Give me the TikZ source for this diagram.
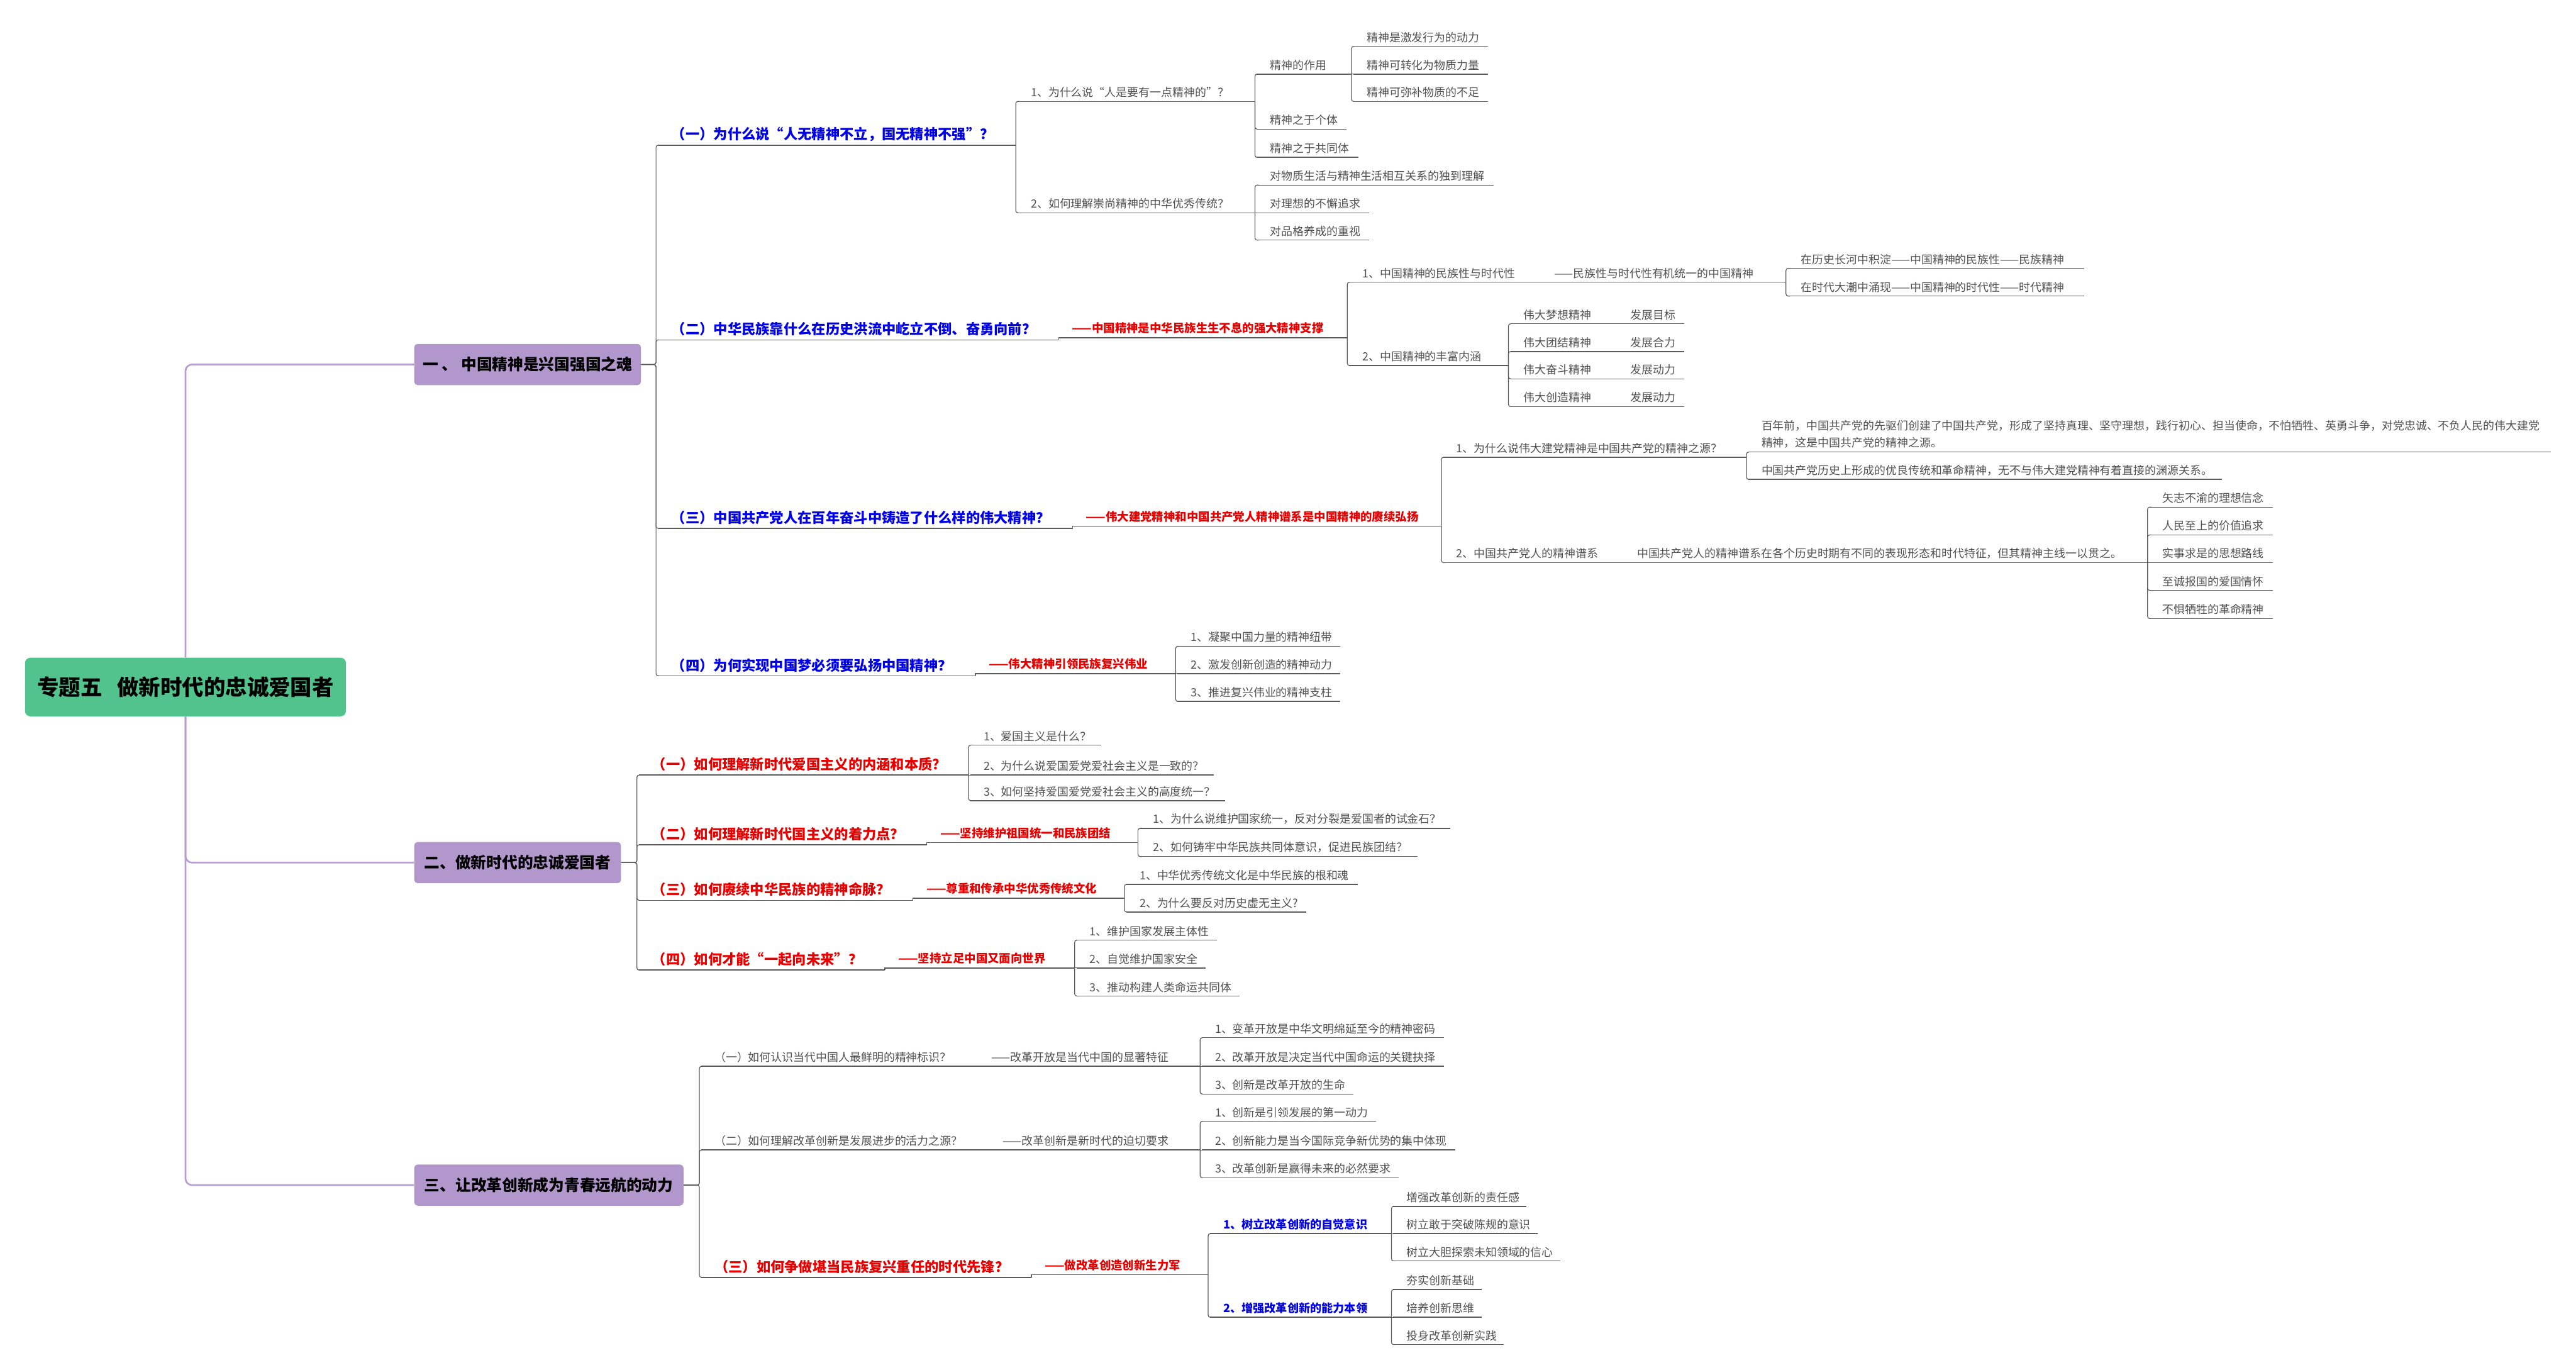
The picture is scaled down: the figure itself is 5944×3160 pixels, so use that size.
\documentclass[tikz,border=0pt]{standalone}
\usepackage{fontspec}
\setmainfont{Noto Sans CJK SC}
\definecolor{rootgreen}{RGB}{82,195,140}
\definecolor{branchpurple}{RGB}{177,151,204}
\definecolor{branchline}{RGB}{180,158,210}
\definecolor{linegray}{RGB}{90,90,90}
\definecolor{txtgray}{RGB}{80,80,80}
\definecolor{qblue}{RGB}{0,0,230}
\definecolor{qred}{RGB}{230,0,0}

\begin{document}
\begin{tikzpicture}[
    x=0.01cm, y=-0.01cm,
    root/.style={fill=rootgreen, rounded corners=0.12cm, minimum width=7.4cm,
                 minimum height=1.35cm, font=\fontsize{14.2}{17}\selectfont\bfseries},
    branch/.style={anchor=west, fill=branchpurple, rounded corners=0.08cm,
                   minimum width=#1, minimum height=0.95cm,
                   font=\fontsize{10.2}{12}\selectfont\bfseries},
    topic/.style={anchor=south west, text width=#1, align=left, inner xsep=0.3cm,
                  inner ysep=0.08cm, text=txtgray, font=\fontsize{7.4}{11.4}\selectfont,
                  append after command={(\tikzlastnode.south west) edge[uline] (\tikzlastnode.south east)}},
    blueq/.style={topic=#1, text=qblue, font=\fontsize{9.2}{11}\selectfont\bfseries},
    redq/.style={topic=#1, text=qred, font=\fontsize{9.2}{11}\selectfont\bfseries},
    gloss/.style={topic=#1, text=qred, font=\fontsize{7.6}{9}\selectfont\bfseries},
    subq/.style={topic=#1, text=qblue, font=\fontsize{7.5}{9}\selectfont\bfseries},
    uline/.style={draw=linegray, line width=0.6pt},
    link/.style={draw=linegray, line width=0.5pt, rounded corners=0.05cm},
    mainlink/.style={draw=branchline, line width=1.1pt, rounded corners=0.15cm}
  ]
    \useasboundingbox (0,0) rectangle (5944,3160);

    \node[root] (root) at (428,1585) {专题五\kern0.35cm做新时代的忠诚爱国者};
    \node[branch=5.23cm] (pa) at (955,841)  {一 、 中国精神是兴国强国之魂};
    \node[branch=4.77cm] (pb) at (955,1990) {二、做新时代的忠诚爱国者};
    \node[branch=6.21cm] (pc) at (955,2734) {三、让改革创新成为青春远航的动力};

    % part one
    \node[blueq=7.63cm] (a1) at (1519,335) {（一）为什么说“人无精神不立，国无精神不强”？};
    \node[topic=4.86cm] (a1x) at (2348,234) {1、为什么说“人是要有一点精神的”？};
    \node[topic=4.86cm] (a1y) at (2348,491) {2、如何理解崇尚精神的中华优秀传统？};
    \node[topic=1.57cm] (a1xa) at (2900,171) {精神的作用};
    \node[topic=1.45cm] (a1xb) at (2900,298) {精神之于个体};
    \node[topic=1.73cm] (a1xc) at (2900,363) {精神之于共同体};
    \node[topic=2.49cm] (a1xa1) at (3123,107) {精神是激发行为的动力};
    \node[topic=2.49cm] (a1xa2) at (3123,171) {精神可转化为物质力量};
    \node[topic=2.49cm] (a1xa3) at (3123,234) {精神可弥补物质的不足};
    \node[topic=4.85cm] (a1ya) at (2900,427) {对物质生活与精神生活相互关系的独到理解};
    \node[topic=1.98cm] (a1yb) at (2900,491) {对理想的不懈追求};
    \node[topic=1.98cm] (a1yc) at (2900,554) {对品格养成的重视};

    \node[blueq=8.62cm] (a2) at (1519,784) {（二）中华民族靠什么在历史洪流中屹立不倒、奋勇向前？};
    \node[gloss=6.04cm] (a2g) at (2443,779) {——中国精神是中华民族生生不息的强大精神支撑};
    \node[topic=9.46cm] (a2x) at (3113,651) {1、中国精神的民族性与时代性\kern0.9cm——民族性与时代性有机统一的中国精神};
    \node[topic=6.22cm] (a2xa) at (4125,619) {在历史长河中积淀——中国精神的民族性——民族精神};
    \node[topic=6.22cm] (a2xb) at (4125,683) {在时代大潮中涌现——中国精神的时代性——时代精神};
    \node[topic=3.06cm] (a2y) at (3113,843) {2、中国精神的丰富内涵};
    \node[topic=3.39cm] (a2ya) at (3485,747) {伟大梦想精神\kern0.9cm发展目标};
    \node[topic=3.39cm] (a2yb) at (3485,811) {伟大团结精神\kern0.9cm发展合力};
    \node[topic=3.39cm] (a2yc) at (3485,874) {伟大奋斗精神\kern0.9cm发展动力};
    \node[topic=3.39cm] (a2yd) at (3485,938) {伟大创造精神\kern0.9cm发展动力};

    \node[blueq=8.94cm] (a3) at (1519,1219) {（三）中国共产党人在百年奋斗中铸造了什么样的伟大精神？};
    \node[gloss=7.89cm] (a3g) at (2475,1214) {——伟大建党精神和中国共产党人精神谱系是中国精神的赓续弘扬};
    \node[topic=6.38cm] (a3x) at (3330,1055) {1、为什么说伟大建党精神是中国共产党的精神之源？};
    \node[topic=17.89cm] (a3xa) at (4034,1043) {百年前，中国共产党的先驱们创建了中国共产党，形成了坚持真理、坚守理想，践行初心、担当使命，不怕牺牲、英勇斗争，对党忠诚、不负人民的伟大建党\\精神，这是中国共产党的精神之源。};
    \node[topic=10.31cm] (a3xb) at (4034,1106) {中国共产党历史上形成的优良传统和革命精神，无不与伟大建党精神有着直接的渊源关系。};
    \node[topic=15.63cm] (a3y) at (3330,1298) {2、中国共产党人的精神谱系\kern0.9cm中国共产党人的精神谱系在各个历史时期有不同的表现形态和时代特征，但其精神主线一以贯之。};
    \node[topic=2.24cm] (a3ya) at (4959,1170) {矢志不渝的理想信念};
    \node[topic=2.24cm] (a3yb) at (4959,1234) {人民至上的价值追求};
    \node[topic=2.24cm] (a3yc) at (4959,1298) {实事求是的思想路线};
    \node[topic=2.24cm] (a3yd) at (4959,1362) {至诚报国的爱国情怀};
    \node[topic=2.24cm] (a3ye) at (4959,1427) {不惧牺牲的革命精神};

    \node[blueq=6.70cm] (a4) at (1519,1559) {（四）为何实现中国梦必须要弘扬中国精神？};
    \node[gloss=4.00cm] (a4g) at (2251,1554) {——伟大精神引领民族复兴伟业};
    \node[topic=3.14cm] (a4a) at (2717,1491) {1、凝聚中国力量的精神纽带};
    \node[topic=3.14cm] (a4b) at (2717,1554) {2、激发创新创造的精神动力};
    \node[topic=3.14cm] (a4c) at (2717,1618) {3、推进复兴伟业的精神支柱};

    % part two
    \node[redq=6.99cm] (b1) at (1474,1788) {（一）如何理解新时代爱国主义的内涵和本质？};
    \node[topic=2.40cm] (b1a) at (2239,1719) {1、爱国主义是什么？};
    \node[topic=5.00cm] (b1b) at (2239,1788) {2、为什么说爱国爱党爱社会主义是一致的？};
    \node[topic=5.26cm] (b1c) at (2239,1847) {3、如何坚持爱国爱党爱社会主义的高度统一？};

    \node[redq=6.03cm] (b2) at (1474,1949) {（二）如何理解新时代国主义的着力点？};
    \node[gloss=4.25cm] (b2g) at (2139,1944) {——坚持维护祖国统一和民族团结};
    \node[topic=6.55cm] (b2a) at (2630,1911) {1、为什么说维护国家统一，反对分裂是爱国者的试金石？};
    \node[topic=5.79cm] (b2b) at (2630,1976) {2、如何铸牢中华民族共同体意识，促进民族团结？};

    \node[redq=5.71cm] (b3) at (1474,2077) {（三）如何赓续中华民族的精神命脉？};
    \node[gloss=4.26cm] (b3g) at (2107,2072) {——尊重和传承中华优秀传统文化};
    \node[topic=4.72cm] (b3a) at (2599,2040) {1、中华优秀传统文化是中华民族的根和魂};
    \node[topic=3.54cm] (b3b) at (2599,2104) {2、为什么要反对历史虚无主义?};

    \node[redq=5.06cm] (b4) at (1474,2238) {（四）如何才能“一起向未来”？};
    \node[gloss=3.76cm] (b4g) at (2042,2233) {——坚持立足中国又面向世界};
    \node[topic=2.63cm] (b4a) at (2484,2169) {1、维护国家发展主体性};
    \node[topic=2.37cm] (b4b) at (2484,2233) {2、自觉维护国家安全};
    \node[topic=3.14cm] (b4c) at (2484,2298) {3、推动构建人类命运共同体};

    % part three
    \node[topic=10.89cm] (c1) at (1618,2460) {（一）如何认识当代中国人最鲜明的精神标识？\kern0.93cm——改革开放是当代中国的显著特征};
    \node[topic=4.97cm] (c1a) at (2773,2394) {1、变革开放是中华文明绵延至今的精神密码};
    \node[topic=4.97cm] (c1b) at (2773,2460) {2、改革开放是决定当代中国命运的关键抉择};
    \node[topic=2.89cm] (c1c) at (2773,2524) {3、创新是改革开放的生命};

    \node[topic=10.89cm] (c2) at (1618,2653) {（二）如何理解改革创新是发展进步的活力之源？\kern0.93cm——改革创新是新时代的迫切要求};
    \node[topic=3.40cm] (c2a) at (2773,2587) {1、创新是引领发展的第一动力};
    \node[topic=5.23cm] (c2b) at (2773,2653) {2、创新能力是当今国际竞争新优势的集中体现};
    \node[topic=3.93cm] (c2c) at (2773,2717) {3、改革创新是赢得未来的必然要求};

    \node[redq=7.00cm] (c3) at (1618,2947) {（三）如何争做堪当民族复兴重任的时代先锋？};
    \node[gloss=3.46cm] (c3g) at (2380,2941) {——做改革创造创新生力军};
    \node[subq=3.57cm] (c3x) at (2792,2846) {1、树立改革创新的自觉意识};
    \node[subq=3.57cm] (c3y) at (2792,3039) {2、增强改革创新的能力本领};
    \node[topic=2.45cm] (c3xa) at (3215,2783) {增强改革创新的责任感};
    \node[topic=2.71cm] (c3xb) at (3215,2846) {树立敢于突破陈规的意识};
    \node[topic=3.23cm] (c3xc) at (3215,2909) {树立大胆探索未知领域的信心};
    \node[topic=1.42cm] (c3ya) at (3215,2975) {夯实创新基础};
    \node[topic=1.42cm] (c3yb) at (3215,3039) {培养创新思维};
    \node[topic=1.93cm] (c3yc) at (3215,3102) {投身改革创新实践};

    \draw[mainlink] (root.north) |- (pa.west);
    \draw[mainlink] (root.south) |- (pb.west);
    \draw[mainlink] (root.south) |- (pc.west);

    \draw[link] (pa.east) -- ++(34,0) |- (a1.south west);
    \draw[link] (pa.east) -- ++(34,0) |- (a2.south west);
    \draw[link] (pa.east) -- ++(34,0) |- (a3.south west);
    \draw[link] (pa.east) -- ++(34,0) |- (a4.south west);
    \draw[link] (a1.south east) |- (a1x.south west);
    \draw[link] (a1.south east) |- (a1y.south west);
    \draw[link] (a1x.south east) |- (a1xa.south west);
    \draw[link] (a1x.south east) |- (a1xb.south west);
    \draw[link] (a1x.south east) |- (a1xc.south west);
    \draw[link] (a1xa.south east) |- (a1xa1.south west);
    \draw[link] (a1xa.south east) -- (a1xa2.south west);
    \draw[link] (a1xa.south east) |- (a1xa3.south west);
    \draw[link] (a1y.south east) |- (a1ya.south west);
    \draw[link] (a1y.south east) -- (a1yb.south west);
    \draw[link] (a1y.south east) |- (a1yc.south west);
    \draw[link, sharp corners] (a2.south east) |- (a2g.south west);
    \draw[link] (a2g.south east) |- (a2x.south west);
    \draw[link] (a2g.south east) |- (a2y.south west);
    \draw[link] (a2x.south east) |- (a2xa.south west);
    \draw[link] (a2x.south east) |- (a2xb.south west);
    \draw[link] (a2y.south east) |- (a2ya.south west);
    \draw[link] (a2y.south east) |- (a2yb.south west);
    \draw[link] (a2y.south east) |- (a2yc.south west);
    \draw[link] (a2y.south east) |- (a2yd.south west);
    \draw[link, sharp corners] (a3.south east) |- (a3g.south west);
    \draw[link] (a3g.south east) |- (a3x.south west);
    \draw[link] (a3g.south east) |- (a3y.south west);
    \draw[link] (a3x.south east) |- (a3xa.south west);
    \draw[link] (a3x.south east) |- (a3xb.south west);
    \draw[link] (a3y.south east) |- (a3ya.south west);
    \draw[link] (a3y.south east) |- (a3yb.south west);
    \draw[link] (a3y.south east) -- (a3yc.south west);
    \draw[link] (a3y.south east) |- (a3yd.south west);
    \draw[link] (a3y.south east) |- (a3ye.south west);
    \draw[link, sharp corners] (a4.south east) |- (a4g.south west);
    \draw[link] (a4g.south east) |- (a4a.south west);
    \draw[link] (a4g.south east) -- (a4b.south west);
    \draw[link] (a4g.south east) |- (a4c.south west);

    \draw[link] (pb.east) -- ++(36,0) |- (b1.south west);
    \draw[link] (pb.east) -- ++(36,0) |- (b2.south west);
    \draw[link] (pb.east) -- ++(36,0) |- (b3.south west);
    \draw[link] (pb.east) -- ++(36,0) |- (b4.south west);
    \draw[link] (b1.south east) |- (b1a.south west);
    \draw[link] (b1.south east) -- (b1b.south west);
    \draw[link] (b1.south east) |- (b1c.south west);
    \draw[link, sharp corners] (b2.south east) |- (b2g.south west);
    \draw[link] (b2g.south east) |- (b2a.south west);
    \draw[link] (b2g.south east) |- (b2b.south west);
    \draw[link, sharp corners] (b3.south east) |- (b3g.south west);
    \draw[link] (b3g.south east) |- (b3a.south west);
    \draw[link] (b3g.south east) |- (b3b.south west);
    \draw[link, sharp corners] (b4.south east) |- (b4g.south west);
    \draw[link] (b4g.south east) |- (b4a.south west);
    \draw[link] (b4g.south east) -- (b4b.south west);
    \draw[link] (b4g.south east) |- (b4c.south west);

    \draw[link] (pc.east) -- ++(36,0) |- (c1.south west);
    \draw[link] (pc.east) -- ++(36,0) |- (c2.south west);
    \draw[link] (pc.east) -- ++(36,0) |- (c3.south west);
    \draw[link] (c1.south east) |- (c1a.south west);
    \draw[link] (c1.south east) -- (c1b.south west);
    \draw[link] (c1.south east) |- (c1c.south west);
    \draw[link] (c2.south east) |- (c2a.south west);
    \draw[link] (c2.south east) -- (c2b.south west);
    \draw[link] (c2.south east) |- (c2c.south west);
    \draw[link, sharp corners] (c3.south east) |- (c3g.south west);
    \draw[link] (c3g.south east) |- (c3x.south west);
    \draw[link] (c3g.south east) |- (c3y.south west);
    \draw[link] (c3x.south east) |- (c3xa.south west);
    \draw[link] (c3x.south east) -- (c3xb.south west);
    \draw[link] (c3x.south east) |- (c3xc.south west);
    \draw[link] (c3y.south east) |- (c3ya.south west);
    \draw[link] (c3y.south east) -- (c3yb.south west);
    \draw[link] (c3y.south east) |- (c3yc.south west);
\end{tikzpicture}
\end{document}
